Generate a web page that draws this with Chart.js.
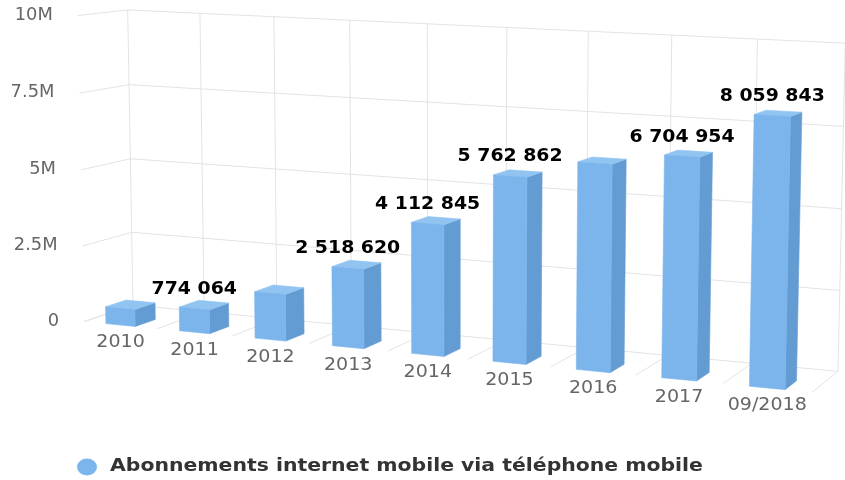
<!DOCTYPE html>
<html lang="fr">
<head>
<meta charset="utf-8">
<title>Abonnements internet mobile via téléphone mobile</title>
<script src="https://cdn.jsdelivr.net/npm/chart.js@4.4.1/dist/chart.umd.min.js"></script>
<style>
  html, body { margin: 0; padding: 0; background: #ffffff; }
  #graphique { display: block; }
</style>
</head>
<body>
<canvas id="graphique" width="845" height="480"></canvas>
<script>
// Données
const categories = ['2010', '2011', '2012', '2013', '2014', '2015', '2016', '2017', '09/2018'];
const abonnements = [556000, 774064, 1500000, 2518620, 4112845, 5762862, 6330000, 6704954, 8059843];
const yTicks = [0, 2500000, 5000000, 7500000, 10000000];
const yTickLabels = ['0', '2.5M', '5M', '7.5M', '10M'];
const nomSerie = 'Abonnements internet mobile via téléphone mobile';

// Réglages de la vue 3D (angles en degrés, profondeurs en px)
const vue = {
    alpha: 8, beta: 21.6, profondeur: 106, profondeurBarre: 44, distance: 2550,
    ecrasement: 0.969, inclinaison: 0.018, decalage: 1.6
};

const bleu = '#7cb5ec';
const bleuDessus = '#92c4f2';
const bleuCote = '#639cd3';
const grille = '#e3e3e3';
const police = '"DejaVu Sans", Verdana, sans-serif';

// Rotation + perspective autour du centre de la zone de tracé
function projecteur(area) {
    const a = vue.alpha * Math.PI / 180;
    const b = vue.beta * Math.PI / 180;
    const ca = Math.cos(a), sa = Math.sin(a), cb = Math.cos(b), sb = Math.sin(b);
    const ox = (area.left + area.right) / 2;
    const oy = (area.top + area.bottom) / 2;
    const oz = vue.profondeur / 2;
    return function (x, y, z) {
        const X = x - ox, Y = y - oy, Z = z - oz;
        const rx = cb * X + sb * Z;
        const ry = sa * sb * X + ca * Y - cb * sa * Z;
        const rz = -ca * sb * X + sa * Y + ca * cb * Z;
        const k = vue.distance / (vue.distance + rz);
        const sx = rx * k, sy = ry * k;
        return { x: ox + sx, y: oy + sy * vue.ecrasement + sx * vue.inclinaison + vue.decalage };
    };
}

function ligne(ctx, p1, p2) {
    ctx.beginPath();
    ctx.moveTo(p1.x, p1.y);
    ctx.lineTo(p2.x, p2.y);
    ctx.stroke();
}

function face(ctx, pts, couleur) {
    ctx.beginPath();
    ctx.moveTo(pts[0].x, pts[0].y);
    for (let i = 1; i < pts.length; i++) ctx.lineTo(pts[i].x, pts[i].y);
    ctx.closePath();
    ctx.fillStyle = couleur;
    ctx.fill();
    ctx.strokeStyle = couleur;
    ctx.lineWidth = 0.6;
    ctx.stroke();
}

// Texte légèrement élargi horizontalement
function texte(ctx, str, x, y, opts) {
    ctx.save();
    ctx.font = opts.font;
    const largeur = ctx.measureText(str).width * opts.etirement;
    let x0 = x;
    if (opts.align === 'right') x0 = x - largeur;
    if (opts.align === 'center') x0 = x - largeur / 2;
    if (!opts.mesure) {
        ctx.translate(x0, y);
        ctx.scale(opts.etirement, 1);
        ctx.textAlign = 'left';
        ctx.textBaseline = 'middle';
        ctx.fillStyle = opts.color;
        ctx.fillText(str, 0, 0);
    }
    ctx.restore();
    return largeur;
}

function formatNombre(v) {
    return Math.round(v).toString().replace(/\B(?=(\d{3})+(?!\d))/g, ' ');
}

const scene3d = {
    id: 'scene3d',
    beforeDatasetsDraw(chart) {
        const ctx = chart.ctx;
        const area = chart.chartArea;
        const xs = chart.scales.x, ys = chart.scales.y;
        const P = projecteur(area);
        const D = vue.profondeur;
        const n = categories.length;
        const pas = xs.getPixelForValue(1) - xs.getPixelForValue(0);
        const bornes = [];
        for (let i = 0; i < n; i++) bornes.push(xs.getPixelForValue(i) - pas / 2);
        bornes.push(xs.getPixelForValue(n - 1) + pas / 2);

        ctx.save();
        ctx.strokeStyle = grille;
        ctx.lineWidth = 1;
        // paroi du fond
        yTicks.forEach(v => {
            const py = ys.getPixelForValue(v);
            ligne(ctx, P(area.left, py, D), P(area.right, py, D));
            // paroi de gauche
            ligne(ctx, P(area.left, py, 0), P(area.left, py, D));
        });
        bornes.forEach(bx => {
            ligne(ctx, P(bx, area.top, D), P(bx, area.bottom, D));
            // sol
            ligne(ctx, P(bx, area.bottom, 0), P(bx, area.bottom, D));
        });

        // colonnes
        const meta = chart.getDatasetMeta(0);
        const bd = vue.profondeurBarre;
        meta.data.forEach(bar => {
            const l = bar.x - bar.width / 2, r = bar.x + bar.width / 2;
            const t = bar.y, b = bar.base;
            face(ctx, [P(r, t, 0), P(r, t, bd), P(r, b, bd), P(r, b, 0)], bleuCote);
            face(ctx, [P(l, t, 0), P(r, t, 0), P(r, t, bd), P(l, t, bd)], bleuDessus);
            face(ctx, [P(l, t, 0), P(r, t, 0), P(r, b, 0), P(l, b, 0)], bleu);
        });
        ctx.restore();
        return false;
    },
    afterDraw(chart) {
        const ctx = chart.ctx;
        const area = chart.chartArea;
        const ys = chart.scales.y;
        const P = projecteur(area);

        // graduations de l'axe des valeurs
        yTicks.forEach((v, i) => {
            const p = P(area.left, ys.getPixelForValue(v), 0);
            texte(ctx, yTickLabels[i], p.x - 25, p.y, {
                font: '17px ' + police, color: '#666666', etirement: 1.05, align: 'right'
            });
        });

        const meta = chart.getDatasetMeta(0);
        // catégories
        meta.data.forEach((bar, i) => {
            const p = P(bar.x, bar.base, 0);
            texte(ctx, categories[i], p.x, p.y + 18, {
                font: '17px ' + police, color: '#666666', etirement: 1.12, align: 'center'
            });
        });

        // étiquettes de valeurs, les plus grandes d'abord, sans chevauchement
        const optsVal = { font: 'bold 17px ' + police, color: '#000000', etirement: 1.11, align: 'center' };
        const ordre = abonnements.map((v, i) => i).sort((a, b) => abonnements[b] - abonnements[a]);
        const places = [];
        ordre.forEach(i => {
            const bar = meta.data[i];
            const p = P(bar.x, bar.y, 0);
            const str = formatNombre(abonnements[i]);
            const w = texte(ctx, str, 0, 0, Object.assign({ mesure: true }, optsVal)) + 10;
            const h = 34;
            const cy = p.y - 19;
            const boite = { x1: p.x - w / 2, x2: p.x + w / 2, y1: cy - h / 2, y2: cy + h / 2 };
            const chevauche = places.some(o => boite.x1 < o.x2 && boite.x2 > o.x1 && boite.y1 < o.y2 && boite.y2 > o.y1);
            if (chevauche) return;
            places.push(boite);
            texte(ctx, str, p.x, cy, optsVal);
        });

        // légende
        ctx.save();
        ctx.fillStyle = bleu;
        ctx.beginPath();
        ctx.ellipse(87, 467, 10, 8.5, 0, 0, Math.PI * 2);
        ctx.fill();
        ctx.restore();
        texte(ctx, nomSerie, 110, 467, {
            font: 'bold 17px ' + police, color: '#333333', etirement: 1.2, align: 'left'
        });
    }
};

new Chart(document.getElementById('graphique'), {
    type: 'bar',
    data: {
        labels: categories,
        datasets: [{
            label: nomSerie,
            data: abonnements,
            backgroundColor: bleu,
            barPercentage: 0.4,
            categoryPercentage: 1
        }]
    },
    options: {
        responsive: false,
        animation: false,
        events: [],
        layout: { padding: { left: 60, right: 10, top: 22, bottom: 128 } },
        plugins: {
            legend: { display: false },
            tooltip: { enabled: false }
        },
        scales: {
            x: { display: false, offset: true },
            y: { display: false, min: 0, max: 10000000, ticks: { stepSize: 2500000 } }
        }
    },
    plugins: [scene3d]
});
</script>
</body>
</html>
